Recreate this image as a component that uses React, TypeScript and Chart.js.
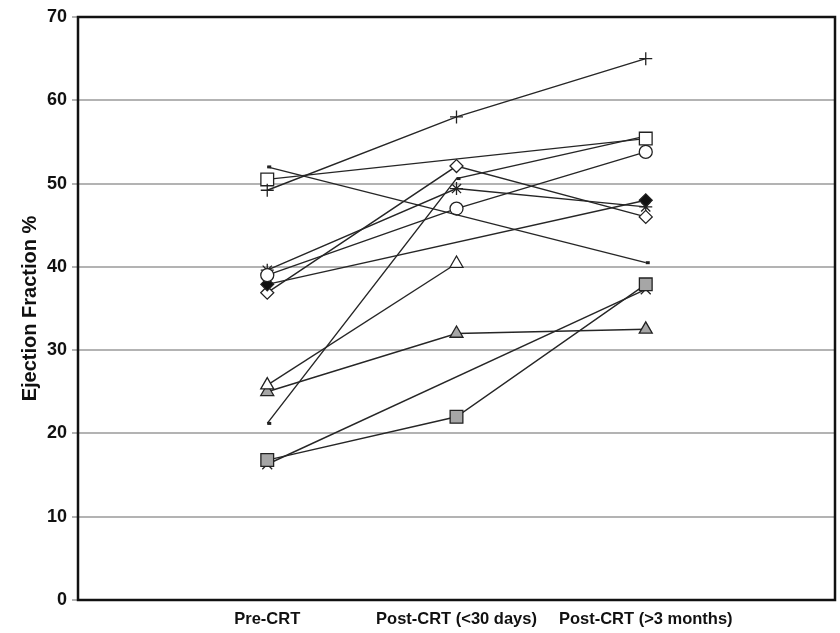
import React, { useEffect, useRef } from "react";
import { Chart, registerables } from "chart.js";

Chart.register(...registerables);

// Categories (empty ends give Excel-like spacing)
const categories = ["", "Pre-CRT", "Post-CRT (<30 days)", "Post-CRT (>3 months)", ""];
const yTicks = [0, 10, 20, 30, 40, 50, 60, 70];
const yTitle = "Ejection Fraction %";

// Series values: [Pre-CRT, Post-CRT (<30 days), Post-CRT (>3 months)]
const plusSeries = [49.2, 58, 65];
const openSquareSeries = [50.5, null, 55.4];
const dashHighSeries = [52, null, 40.5];
const dashLowSeries = [21.2, 50.6, 55.7];
const openCircleSeries = [39, 47, 53.8];
const filledDiamondSeries = [37.9, null, 48];
const openDiamondSeries = [36.9, 52.1, 46];
const asteriskSeries = [39.6, 49.4, 47.2];
const openTriangleSeries = [25.8, 40.4, null];
const grayTriangleSeries = [25, 32, 32.5];
const graySquareSeries = [16.8, 22, 37.9];
const xSeries = [16.3, null, 37.3];

const LINE = "#262626";
const GRAY = "#a6a6a6";
const FONT = "Liberation Sans, Arial, sans-serif";

type Marker = {
  data: (number | null)[];
  style: string;
  fill: string;
  radius: number;
  bw?: number;
};

const series: Marker[] = [
  { data: plusSeries, style: "cross", fill: LINE, radius: 6.5, bw: 1.3 },
  { data: openSquareSeries, style: "rect", fill: "#ffffff", radius: 9, bw: 1.3 },
  { data: dashHighSeries, style: "dash", fill: LINE, radius: 4, bw: 3 },
  { data: dashLowSeries, style: "dash", fill: LINE, radius: 4, bw: 3 },
  { data: openCircleSeries, style: "circle", fill: "#ffffff", radius: 6.5, bw: 1.3 },
  { data: filledDiamondSeries, style: "rectRot", fill: "#111111", radius: 6.5, bw: 1.2 },
  { data: openDiamondSeries, style: "rectRot", fill: "#ffffff", radius: 6.5, bw: 1.3 },
  { data: asteriskSeries, style: "star", fill: LINE, radius: 6.5, bw: 1.3 },
  { data: openTriangleSeries, style: "triangle", fill: "#ffffff", radius: 7.5, bw: 1.3 },
  { data: grayTriangleSeries, style: "triangle", fill: GRAY, radius: 7.5, bw: 1.3 },
  { data: graySquareSeries, style: "rect", fill: GRAY, radius: 9, bw: 1.3 },
  { data: xSeries, style: "crossRot", fill: LINE, radius: 7, bw: 1.3 },
];

const borderPlugin = {
  id: "plotBorder",
  beforeDatasetsDraw(chart: any) {
    const { ctx, chartArea } = chart;
    ctx.save();
    ctx.strokeStyle = "#111111";
    ctx.lineWidth = 2.5;
    ctx.strokeRect(
      chartArea.left,
      chartArea.top,
      chartArea.right - chartArea.left,
      chartArea.bottom - chartArea.top
    );
    ctx.restore();
  },
};

export default function App() {
  const canvasRef = useRef<HTMLCanvasElement | null>(null);

  useEffect(() => {
    if (!canvasRef.current) return;
    const datasets = series.map((s, i) => ({
      label: "S" + (i + 1),
      data: [null, ...s.data, null],
      borderColor: LINE,
      borderWidth: 1.4,
      pointStyle: s.style,
      pointRadius: s.radius,
      pointBackgroundColor: s.fill,
      pointBorderColor: "#222222",
      pointBorderWidth: s.bw ?? 1.2,
      spanGaps: true,
      fill: false,
      tension: 0,
    }));

    const chart = new Chart(canvasRef.current, {
      type: "line",
      data: { labels: categories, datasets: datasets as any },
      plugins: [borderPlugin],
      options: {
        responsive: false,
        animation: false,
        layout: { autoPadding: false, padding: { left: 0, right: 5, top: 17, bottom: 0 } },
        plugins: {
          legend: { display: false },
          tooltip: { enabled: false },
        },
        scales: {
          x: {
            type: "category",
            offset: false,
            grid: { display: false, drawTicks: false },
            border: { display: false },
            ticks: {
              autoSkip: false,
              maxRotation: 0,
              minRotation: 0,
              padding: 10,
              color: "#111111",
              font: { family: FONT, size: 16.5, weight: "bold" },
            },
            afterFit(scale: any) {
              scale.height = 33;
              scale.paddingRight = 0;
              scale.paddingLeft = 0;
            },
          },
          y: {
            min: 0,
            max: 70,
            afterBuildTicks(scale: any) {
              scale.ticks = yTicks.map((v) => ({ value: v }));
            },
            grid: {
              color: "#b3b3b3",
              lineWidth: 2,
              drawTicks: true,
              tickLength: 6,
              tickColor: "#9a9a9a",
              tickWidth: 1.5,
            },
            border: { display: false },
            ticks: {
              padding: 5,
              color: "#111111",
              font: { family: FONT, size: 18, weight: "bold" },
            },
            title: {
              display: true,
              text: yTitle,
              color: "#111111",
              padding: { top: 18, bottom: 0 },
              font: { family: FONT, size: 20, weight: "bold" },
            },
            afterFit(scale: any) {
              scale.width = 78;
            },
          },
        },
      },
    });
    return () => chart.destroy();
  }, []);

  return (
    <div style={{ position: "absolute", left: 0, top: 0, width: 840, height: 633, background: "#ffffff" }}>
      <canvas ref={canvasRef} width={840} height={633} style={{ display: "block" }} />
    </div>
  );
}
